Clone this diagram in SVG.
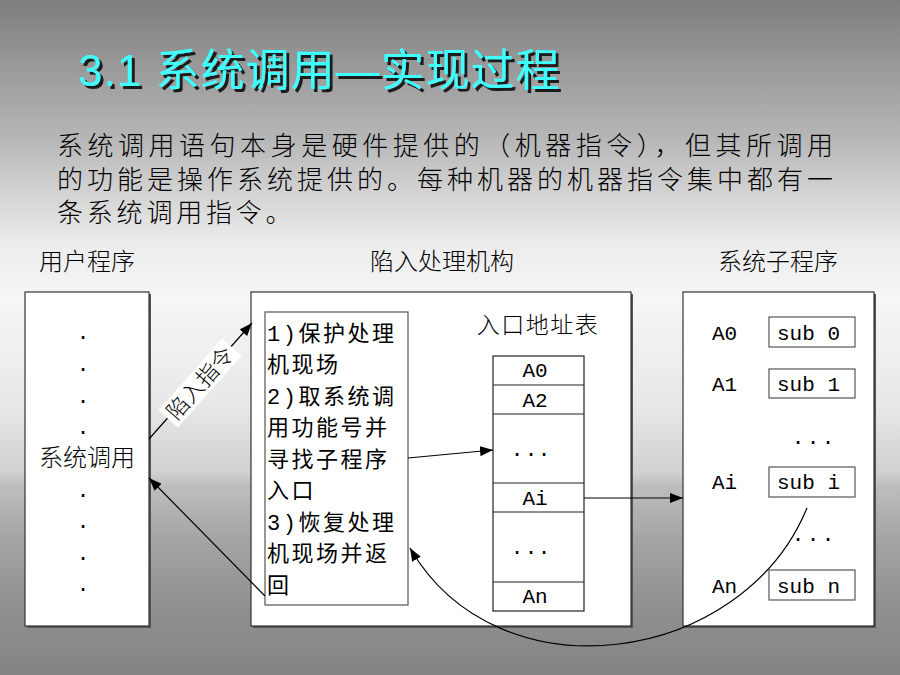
<svg xmlns="http://www.w3.org/2000/svg" width="900" height="675" viewBox="0 0 900 675">
  <defs>
    <linearGradient id="bg" x1="0" y1="0" x2="0" y2="1">
      <stop offset="0" stop-color="#7e7e7e"/>
      <stop offset="0.2" stop-color="#b5b5b5"/>
      <stop offset="0.36" stop-color="#ececec"/>
      <stop offset="0.44" stop-color="#f6f6f6"/>
      <stop offset="0.6" stop-color="#e8e8e8"/>
      <stop offset="0.7" stop-color="#d0d0d0"/>
      <stop offset="0.72" stop-color="#bdbdbd"/>
      <stop offset="0.8" stop-color="#a4a4a4"/>
      <stop offset="0.9" stop-color="#909090"/>
      <stop offset="1" stop-color="#848484"/>
    </linearGradient>
    <filter id="tshadow" x="-5%" y="-20%" width="110%" height="140%">
      <feDropShadow dx="3" dy="3" stdDeviation="0.4" flood-color="#1a1a1a" flood-opacity="1"/>
    </filter>
    <marker id="arrow" markerUnits="userSpaceOnUse" markerWidth="13" markerHeight="10" refX="13" refY="5" orient="auto">
      <path d="M0,0 L13,5 L0,10 z" fill="#000"/>
    </marker>
  </defs>
  <style>
    .cjk { font-family: "Noto Sans CJK SC", sans-serif; font-weight: 300; fill: #000; }
    .para { font-family: "Liberation Serif", "Noto Sans CJK SC", sans-serif; font-weight: 300; fill: #000; }
    .mono { font-family: "Liberation Mono", "Noto Sans CJK SC", monospace; fill: #000; }
    .box { fill: #fff; stroke: #333; stroke-width: 1.2; }
    .shadow { fill: #555; }
    .inner { fill: #fff; stroke: #555; stroke-width: 1.2; }
    .cell { fill: none; stroke: #222; stroke-width: 1.2; }
    .conn { fill: none; stroke: #000; stroke-width: 1.2; }
  </style>

  <rect x="0" y="0" width="900" height="675" fill="url(#bg)"/>

  <g id="title">
    <text x="78" y="86" font-family="Liberation Sans, 'Noto Sans CJK SC', sans-serif" font-size="44" font-weight="normal" fill="#40ffff" letter-spacing="1" filter="url(#tshadow)">3.1 系统调用—实现过程</text>
  </g>

  <g id="paragraph" font-size="26">
    <text class="para" x="57" y="155" textLength="776" lengthAdjust="spacing">系统调用语句本身是硬件提供的（机器指令），但其所调用</text>
    <text class="para" x="57" y="189" textLength="776" lengthAdjust="spacing">的功能是操作系统提供的。每种机器的机器指令集中都有一</text>
    <text class="para" x="57" y="222" letter-spacing="3.8">条系统调用指令。</text>
  </g>

  <g id="headers" font-size="24">
    <text class="cjk" x="87" y="270" text-anchor="middle">用户程序</text>
    <text class="cjk" x="442" y="270" text-anchor="middle">陷入处理机构</text>
    <text class="cjk" x="778" y="270" text-anchor="middle">系统子程序</text>
  </g>

  <g id="user-program">
    <rect class="shadow" x="27" y="294" width="124" height="334"/>
    <rect class="box" x="25" y="292" width="124" height="334"/>
    <g class="mono" font-size="21" text-anchor="middle">
      <text x="83" y="339">.</text>
      <text x="83" y="371">.</text>
      <text x="83" y="403">.</text>
      <text x="83" y="434">.</text>
      <text x="83" y="497">.</text>
      <text x="83" y="528">.</text>
      <text x="83" y="560">.</text>
      <text x="83" y="591">.</text>
    </g>
    <text class="cjk" x="87" y="466" font-size="24" text-anchor="middle">系统调用</text>
  </g>

  <g id="trap-handler">
    <rect class="shadow" x="253" y="294" width="380" height="334"/>
    <rect class="box" x="251" y="292" width="380" height="334"/>
    <g id="steps">
      <rect class="inner" x="265" y="312" width="143" height="293"/>
      <g class="mono" font-size="22" letter-spacing="2.5">
        <text x="267" y="341">1)保护处理</text>
        <text x="267" y="372">机现场</text>
        <text x="267" y="404">2)取系统调</text>
        <text x="267" y="435">用功能号并</text>
        <text x="267" y="467">寻找子程序</text>
        <text x="267" y="498">入口</text>
        <text x="267" y="530">3)恢复处理</text>
        <text x="267" y="561">机现场并返</text>
        <text x="267" y="593">回</text>
      </g>
    </g>
    <g id="entry-table">
      <text class="cjk" x="538" y="333" font-size="23" letter-spacing="1.5" text-anchor="middle">入口地址表</text>
      <rect class="cell" x="493" y="356" width="91" height="255" fill="#fff"/>
      <line class="cell" x1="493" y1="385" x2="584" y2="385"/>
      <line class="cell" x1="493" y1="414" x2="584" y2="414"/>
      <line class="cell" x1="493" y1="483" x2="584" y2="483"/>
      <line class="cell" x1="493" y1="512" x2="584" y2="512"/>
      <line class="cell" x1="493" y1="582" x2="584" y2="582"/>
      <g class="mono" font-size="21" text-anchor="middle">
        <text x="535" y="377">A0</text>
        <text x="535" y="407">A2</text>
        <text x="517 531 544" y="456">...</text>
        <text x="535" y="505">Ai</text>
        <text x="517 531 544" y="554">...</text>
        <text x="535" y="603">An</text>
      </g>
    </g>
  </g>

  <g id="subprograms">
    <rect class="shadow" x="685" y="294" width="191" height="334"/>
    <rect class="box" x="683" y="292" width="191" height="334"/>
    <g class="mono" font-size="21">
      <text x="712" y="340">A0</text>
      <text x="712" y="391">A1</text>
      <text x="712" y="489">Ai</text>
      <text x="712" y="593">An</text>
    </g>
    <rect class="inner" x="769" y="317" width="86" height="30"/>
    <rect class="inner" x="769" y="369" width="86" height="29"/>
    <rect class="inner" x="769" y="467" width="86" height="30"/>
    <rect class="inner" x="769" y="570" width="86" height="30"/>
    <g class="mono" font-size="21">
      <text x="777" y="340">sub 0</text>
      <text x="777" y="391">sub 1</text>
      <text x="777" y="489">sub i</text>
      <text x="777" y="593">sub n</text>
      <text x="798 813 828" y="444" text-anchor="middle">...</text>
      <text x="798 813 828" y="541" text-anchor="middle">...</text>
    </g>
  </g>

  <g id="connectors">
    <line class="conn" x1="149" y1="439" x2="252" y2="323" marker-end="url(#arrow)"/>
    <g transform="translate(200,383) rotate(-48.4)">
      <rect x="-48" y="-13" width="96" height="26" fill="#fff"/>
      <text class="cjk" x="0" y="8" font-size="22" text-anchor="middle">陷入指令</text>
    </g>
    <line class="conn" x1="408" y1="458" x2="493" y2="450" marker-end="url(#arrow)"/>
    <line class="conn" x1="584" y1="498" x2="683" y2="498" marker-end="url(#arrow)"/>
    <line class="conn" x1="265" y1="596" x2="149" y2="478" marker-end="url(#arrow)"/>
    <path class="conn" d="M807,508 C742,666 498,700 410,548" marker-end="url(#arrow)"/>
  </g>
</svg>
